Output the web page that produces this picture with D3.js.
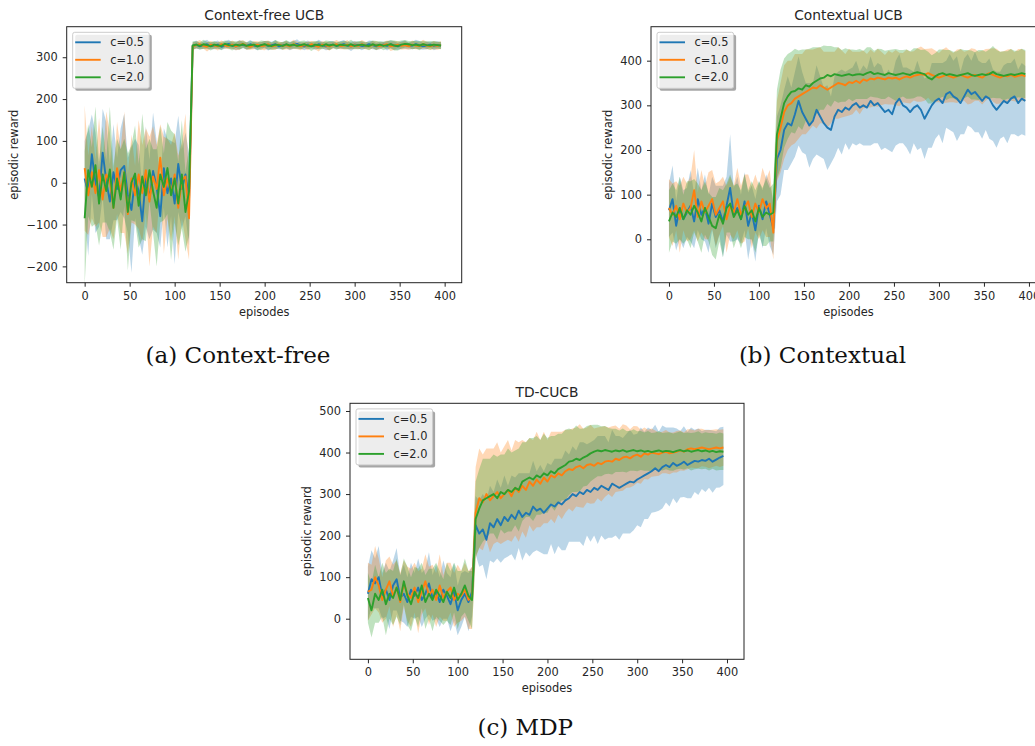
<!DOCTYPE html>
<html lang="en">
<head>
<meta charset="UTF-8">
<title>UCB episodic reward</title>
<script src="https://cdn.jsdelivr.net/npm/d3@7"></script>
<style>
  body { margin: 0; background: #fff; }
  svg text { font-family: "DejaVu Sans", sans-serif; fill: #262626; }
  svg text.caption { font-family: "DejaVu Serif", serif; fill: #111; }
</style>
</head>
<body>
<svg id="chart" width="1035" height="746"></svg>
<script>
// episodes, sampled every 4 steps
var episodes = d3.range(0, 400, 4);
var labels = ["c=0.5", "c=1.0", "c=2.0"];
var xTicks = [0, 50, 100, 150, 200, 250, 300, 350, 400];
var yTicksA = [-200, -100, 0, 100, 200, 300];
var yTicksB = [0, 100, 200, 300, 400];
var yTicksC = [0, 100, 200, 300, 400, 500];

// (a) context-free UCB : mean reward
var aBlue = [
  10,-25,68,0,-35,72,5,-45,25,-15,
  30,40,-30,-65,10,-20,-92,15,-40,28,
  -10,-80,35,-25,10,-50,45,-15,20,-40,
  327,330,326,329,331,327,328,330,325,329,
  332,328,326,330,329,327,331,328,326,329,
  330,327,329,331,326,328,330,327,329,332,
  328,326,330,328,327,331,329,326,328,330,
  327,329,331,328,326,330,329,327,328,331,
  329,326,328,330,327,331,328,326,329,330,
  327,328,331,329,326,328,330,327,329,328];
var aOrange = [
  35,-30,25,-25,30,-40,20,5,-60,35,
  -20,25,-75,10,-30,20,-25,30,-45,15,
  -15,60,-30,10,-25,20,-60,5,15,-85,
  326,329,331,327,325,330,328,326,331,328,
  327,330,326,329,332,327,325,329,330,327,
  328,331,326,328,330,327,329,326,331,328,
  326,329,327,331,328,325,330,328,326,329,
  331,327,328,330,326,329,327,331,328,326,
  330,328,327,329,331,326,328,330,327,329,
  326,330,328,327,331,328,326,329,327,329];
var aGreen = [
  -85,30,-10,42,-50,20,-20,32,-60,10,
  -40,25,-70,0,22,-55,15,-30,30,-20,
  -60,20,-10,35,-30,10,-50,20,-70,-20,
  328,330,327,331,329,326,330,328,327,332,
  329,327,330,328,331,327,329,330,326,329,
  331,328,327,330,329,327,331,328,330,327,
  329,331,328,326,330,329,327,331,328,330,
  327,330,329,328,331,327,329,330,328,327,
  331,328,330,327,329,331,328,327,330,332,
  331,329,330,328,331,329,328,330,329,328];
// (a) spread (std)
var aBlueStd = [
  90,150,95,120,70,105,140,90,115,75,
  100,125,90,150,95,110,80,120,95,140,
  110,75,95,130,90,145,115,95,100,110,
  8,10,7,9,11,8,9,10,7,9,
  10,8,9,11,7,9,10,8,9,7,
  9,11,8,10,7,9,8,10,9,11,
  8,9,10,7,9,11,8,9,10,8,
  7,9,10,8,11,9,8,10,7,9,
  10,8,9,7,11,9,10,8,9,10,
  8,9,11,10,8,9,7,10,9,8];
var aOrangeStd = [
  150,95,110,80,125,90,150,115,75,110,
  100,145,95,105,70,130,115,100,155,120,
  105,80,140,95,115,100,125,90,150,100,
  9,8,10,7,11,9,8,10,9,7,
  8,10,9,11,8,9,7,10,8,9,
  11,9,8,10,7,9,10,8,11,9,
  9,7,10,8,9,11,8,9,10,8,
  10,8,9,11,7,9,8,10,9,8,
  9,10,8,7,9,11,10,8,9,10,
  8,10,9,8,11,9,8,10,9,9];
var aGreenStd = [
  160,110,95,140,100,115,75,150,100,95,
  120,80,140,90,115,100,150,110,75,100,
  140,115,80,110,155,105,100,130,95,105,
  10,8,9,11,8,10,9,7,10,8,
  9,11,8,10,9,8,10,7,9,11,
  8,10,9,11,8,9,10,8,9,7,
  10,9,8,11,9,10,8,9,11,8,
  9,8,10,9,11,8,10,9,8,10,
  9,11,8,10,9,10,12,11,10,9,
  8,10,9,11,8,9,10,9,8,9];

// (b) contextual UCB : mean reward
var bBlue = [
  65,90,30,70,45,60,75,40,90,55,
  70,35,80,50,65,40,75,115,55,70,
  45,85,30,60,20,75,45,85,55,25,
  180,200,245,260,255,280,310,285,270,255,
  265,290,275,260,250,245,275,290,285,295,
  290,300,305,295,300,295,310,300,305,295,
  285,290,280,305,315,300,295,285,295,300,
  290,270,285,300,310,315,305,325,330,320,
  315,305,320,335,325,330,320,310,320,315,
  300,290,300,310,305,315,320,305,315,310];
var bOrange = [
  70,55,75,45,80,60,70,110,50,85,
  60,75,90,55,70,85,45,75,60,90,
  55,70,85,50,80,60,90,70,80,15,
  220,250,285,300,305,315,320,325,330,335,
  340,338,345,340,335,340,345,350,348,345,
  352,350,355,350,358,355,360,358,362,360,
  358,362,360,362,358,362,365,362,366,368,
  370,368,372,368,365,362,365,368,365,362,
  365,368,365,362,366,368,365,362,368,372,
  368,365,362,366,365,368,364,366,368,365];
var bGreen = [
  40,60,50,70,45,65,55,75,60,40,
  70,50,30,25,55,35,70,80,50,65,
  45,75,55,65,40,70,50,60,55,60,
  235,270,305,320,330,332,338,335,345,342,
  350,355,360,362,368,365,370,368,366,368,
  370,367,369,370,368,372,375,370,372,370,
  368,372,370,368,370,372,370,368,372,374,
  372,370,362,358,365,370,372,368,370,368,
  366,368,370,372,368,366,368,370,368,370,
  375,370,368,366,368,370,368,370,372,370];
// (b) spread (std)
var bBlueStd = [
  60,75,55,70,65,55,80,60,70,55,
  75,65,60,70,55,80,65,120,60,70,
  55,65,75,60,70,55,65,60,70,60,
  95,100,90,105,85,95,100,90,80,95,
  85,100,90,80,95,75,90,85,95,80,
  90,85,95,80,90,85,100,85,90,95,
  80,90,85,95,100,85,90,95,80,100,
  85,90,80,95,85,80,90,75,85,80,
  95,70,85,80,75,90,80,85,75,90,
  80,85,75,80,90,80,85,75,80,78];
var bOrangeStd = [
  65,70,55,75,60,65,70,90,55,70,
  60,75,65,70,60,55,75,65,60,70,
  65,75,60,70,65,60,70,65,75,60,
  90,100,105,100,95,100,95,90,95,90,
  85,90,85,80,85,80,75,80,75,70,
  75,70,65,70,65,60,65,60,65,60,
  55,60,58,62,60,55,60,58,55,60,
  62,58,55,60,58,55,60,62,58,55,
  60,58,55,60,62,58,55,60,58,55,
  60,62,58,55,60,58,55,60,58,56];
var bGreenStd = [
  70,65,60,70,55,65,75,60,65,70,
  60,55,65,70,60,75,55,65,70,60,
  65,70,55,65,70,60,65,75,60,65,
  100,110,100,95,90,95,85,90,80,85,
  80,75,70,72,65,68,60,62,58,60,
  55,58,55,56,54,58,55,52,55,56,
  54,52,55,58,54,52,55,53,56,54,
  52,55,58,54,52,55,53,56,54,52,
  55,58,54,52,55,53,56,54,52,55,
  58,54,52,55,53,56,54,52,55,54];

// (c) TD-CUCB : mean reward
var cBlue = [
  60,95,85,100,55,70,45,80,95,50,
  60,40,70,55,75,45,60,85,50,65,
  40,70,55,35,65,20,45,60,40,65,
  225,205,215,190,230,220,240,225,245,235,
  250,240,260,245,255,250,270,260,265,255,
  265,275,270,280,275,285,290,300,295,305,
  300,310,305,315,310,320,315,310,325,320,
  315,320,325,330,328,335,340,345,350,355,
  362,355,365,370,365,375,368,372,378,370,
  375,380,378,382,380,385,378,383,388,392];
var cOrange = [
  65,70,100,80,45,70,90,55,75,40,
  85,60,50,75,40,65,90,55,70,45,
  80,50,65,75,45,60,55,70,45,50,
  255,290,280,300,285,295,305,290,300,310,
  295,315,305,320,310,330,320,335,325,340,
  330,345,340,350,345,355,360,358,365,368,
  362,370,372,368,375,372,378,380,378,385,
  382,388,390,386,392,395,390,398,395,400,
  398,396,400,402,398,400,402,405,402,408,
  410,408,410,412,410,408,410,412,410,412];
var cGreen = [
  50,20,60,45,70,35,60,50,75,45,
  90,55,35,65,50,80,40,60,45,70,
  55,40,65,50,75,45,60,80,55,45,
  240,265,285,290,295,300,290,305,300,310,
  305,315,310,330,335,340,335,345,340,350,
  345,355,350,360,365,370,378,380,385,382,
  388,392,398,402,405,403,406,404,402,405,
  403,406,402,404,406,403,405,402,404,401,
  403,405,402,404,403,401,404,406,403,405,
  402,404,406,403,405,402,404,401,403,402];
// (c) spread (std)
var cBlueStd = [
  65,70,60,75,55,65,70,60,75,55,
  70,60,65,55,70,65,60,75,55,65,
  60,70,55,65,70,60,65,55,70,60,
  70,80,85,95,90,85,95,90,100,85,
  95,100,90,105,95,100,110,95,105,100,
  110,95,115,105,110,120,105,115,110,120,
  125,110,120,115,130,120,125,115,130,120,
  125,115,120,125,115,110,120,105,110,100,
  105,95,100,90,95,85,90,80,85,80,
  85,75,80,70,75,70,75,68,72,70];
var cOrangeStd = [
  70,60,75,65,55,70,60,75,65,70,
  55,65,70,60,75,55,65,70,60,65,
  75,55,70,60,65,70,60,65,70,75,
  110,120,115,110,125,115,120,110,115,120,
  110,115,120,110,115,105,110,115,105,110,
  100,105,110,100,105,100,95,100,95,100,
  95,90,95,90,85,90,85,80,85,80,
  75,80,75,70,72,68,65,62,60,58,
  55,52,50,52,50,48,50,48,46,48,
  46,45,47,45,44,46,45,44,45,44];
var cGreenStd = [
  60,65,70,55,65,75,60,65,70,60,
  55,70,65,60,70,55,65,60,75,65,
  60,55,70,65,60,70,55,65,60,70,
  90,95,100,95,90,95,100,90,95,100,
  95,90,100,95,90,95,100,95,90,95,
  90,85,90,85,80,85,80,75,80,75,
  70,72,68,65,62,60,58,55,55,52,
  50,52,50,48,50,48,47,46,48,46,
  45,47,45,44,46,45,44,45,44,43,
  45,44,45,43,44,45,43,44,45,44];

var colors = ["#1f77b4", "#ff7f0e", "#2ca02c"];

var panels = [
  { title: "Context-free UCB", caption: "(a) Context-free", capX: 238, capY: 363,
    left: 66.7, top: 26.7, width: 395, height: 256, yDomain: [-239, 373], yTicks: yTicksA, ylabOff: 48.7,
    means: [aBlue, aOrange, aGreen], stds: [aBlueStd, aOrangeStd, aGreenStd] },
  { title: "Contextual UCB", caption: "(b) Contextual", capX: 822.5, capY: 363,
    left: 651, top: 26.7, width: 395, height: 256, yDomain: [-97.2, 476.1], yTicks: yTicksB, ylabOff: 39.3,
    means: [bBlue, bOrange, bGreen], stds: [bBlueStd, bOrangeStd, bGreenStd] },
  { title: "TD-CUCB", caption: "(c) MDP", capX: 525.3, capY: 735,
    left: 350, top: 403.3, width: 394, height: 256, yDomain: [-97.7, 518.5], yTicks: yTicksC, ylabOff: 38.6,
    means: [cBlue, cOrange, cGreen], stds: [cBlueStd, cOrangeStd, cGreenStd] }
];

var svg = d3.select("#chart");
svg.append("rect").attr("width", 1035).attr("height", 746).attr("fill", "#fff");

panels.forEach(function(p, pi) {
  var x = d3.scaleLinear().domain([-19.95, 418.95]).range([p.left, p.left + p.width]);
  var y = d3.scaleLinear().domain(p.yDomain).range([p.top + p.height, p.top]);
  var g = svg.append("g");

  g.append("clipPath").attr("id", "clip" + pi)
    .append("rect").attr("x", p.left).attr("y", p.top).attr("width", p.width).attr("height", p.height);
  var plot = g.append("g").attr("clip-path", "url(#clip" + pi + ")");

  // bands first (matplotlib draws collections under lines)
  p.means.forEach(function(m, si) {
    var s = p.stds[si];
    var area = d3.area()
      .x(function(d, i) { return x(episodes[i]); })
      .y0(function(d, i) { return y(m[i] - s[i]); })
      .y1(function(d, i) { return y(m[i] + s[i]); });
    plot.append("path").datum(m).attr("d", area)
      .attr("fill", colors[si]).attr("fill-opacity", 0.3);
  });
  p.means.forEach(function(m, si) {
    var line = d3.line()
      .x(function(d, i) { return x(episodes[i]); })
      .y(function(d) { return y(d); });
    plot.append("path").datum(m).attr("d", line)
      .attr("fill", "none").attr("stroke", colors[si]).attr("stroke-width", 1.9)
      .attr("stroke-linejoin", "round");
  });

  // axes
  var xa = g.append("g").attr("transform", "translate(0," + (p.top + p.height) + ")")
    .call(d3.axisBottom(x).tickValues(xTicks).tickSize(4).tickPadding(5).tickFormat(d3.format("d")));
  var ya = g.append("g").attr("transform", "translate(" + p.left + ",0)")
    .call(d3.axisLeft(y).tickValues(p.yTicks).tickSize(4).tickPadding(5).tickFormat(d3.format("d")));
  [xa, ya].forEach(function(a) {
    a.select(".domain").remove();
    a.attr("font-size", 11.4).attr("font-family", null).attr("color", "#262626");
  });

  g.append("rect").attr("x", p.left).attr("y", p.top).attr("width", p.width).attr("height", p.height)
    .attr("fill", "none").attr("stroke", "#222").attr("stroke-width", 1);

  g.append("text").attr("x", p.left + p.width / 2).attr("y", p.top - 6.5)
    .attr("text-anchor", "middle").attr("font-size", 13.8).text(p.title);
  g.append("text").attr("x", p.left + p.width / 2).attr("y", p.top + p.height + 32.8)
    .attr("text-anchor", "middle").attr("font-size", 11.4).text("episodes");
  g.append("text")
    .attr("transform", "translate(" + (p.left - p.ylabOff) + "," + (p.top + p.height / 2) + ") rotate(-90)")
    .attr("text-anchor", "middle").attr("font-size", 11.4).text("episodic reward");

  // legend with shadow
  var lx = p.left + 6, ly = p.top + 5.6;
  var leg = g.append("g");
  leg.append("rect").attr("x", lx + 2.5).attr("y", ly + 2.5).attr("width", 76.6).attr("height", 56)
    .attr("rx", 2).attr("fill", "rgb(77,77,77)").attr("fill-opacity", 0.5);
  leg.append("rect").attr("x", lx).attr("y", ly).attr("width", 76.6).attr("height", 56)
    .attr("rx", 2).attr("fill", "#fff").attr("fill-opacity", 0.8).attr("stroke", "#ccc").attr("stroke-width", 1);
  labels.forEach(function(lab, si) {
    var ry = ly + 10 + si * 17.5;
    leg.append("line").attr("x1", lx + 2.5).attr("x2", lx + 28).attr("y1", ry).attr("y2", ry)
      .attr("stroke", colors[si]).attr("stroke-width", 1.9);
    leg.append("text").attr("x", lx + 37.5).attr("y", ry + 4).attr("font-size", 11.4).text(lab);
  });

  svg.append("text").attr("class", "caption").attr("x", p.capX).attr("y", p.capY)
    .attr("text-anchor", "middle").attr("font-size", 23).text(p.caption);
});
</script>
</body>
</html>
